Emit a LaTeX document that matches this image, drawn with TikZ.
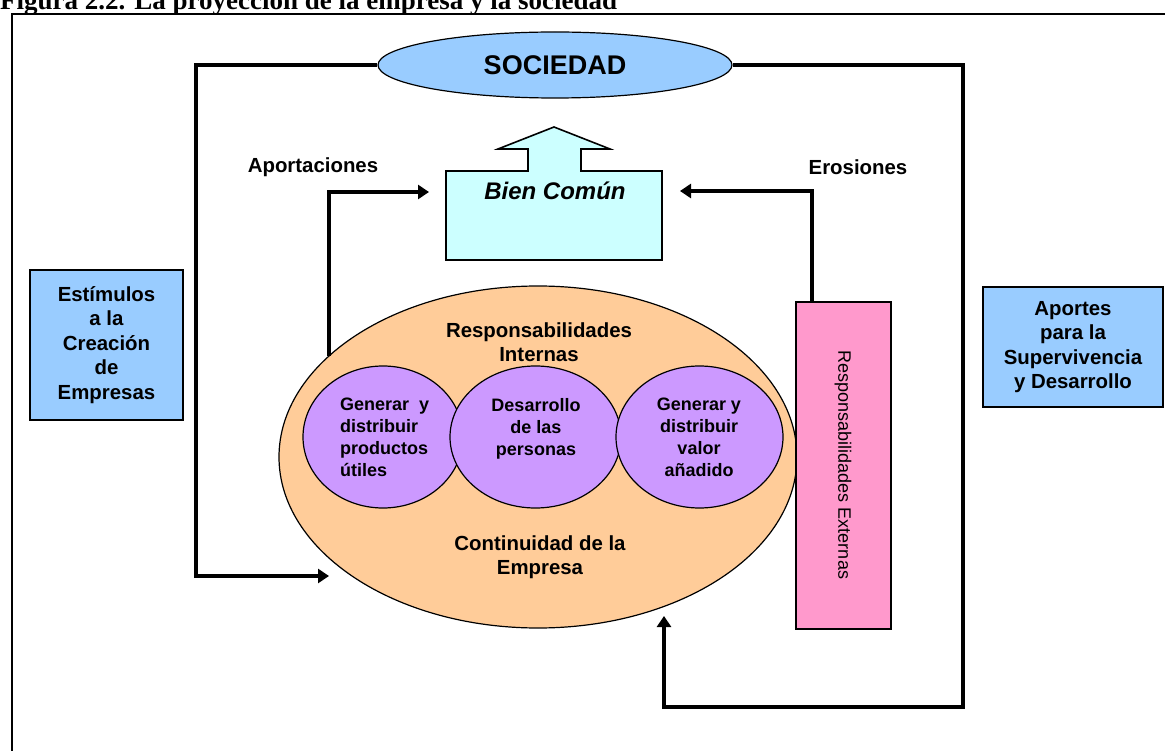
\documentclass[tikz,border=0pt]{standalone}
\usepackage{fontspec}
\setmainfont{Liberation Sans}
\newfontfamily\titlefont{Liberation Serif}
\usetikzlibrary{shapes.geometric,arrows.meta}

\definecolor{skyblue}{HTML}{99CCFF}
\definecolor{paleaqua}{HTML}{CCFFFF}
\definecolor{peach}{HTML}{FFCC99}
\definecolor{lilac}{HTML}{CC99FF}
\definecolor{rose}{HTML}{FF99CC}

\begin{document}
\begin{tikzpicture}[x=1pt,y=-1pt,
  frameline/.style={line width=2.4pt},
  conn/.style={line width=3.3pt},
  arr/.style={conn,-{Triangle[length=11pt,width=14pt]}},
  oval/.style={ellipse,draw,line width=1.2pt,inner sep=0pt},
  box/.style={rectangle,draw,line width=1.6pt,inner sep=0pt},
  lbl/.style={font=\bfseries\fontsize{20.4}{24.5}\selectfont,align=center,inner sep=0pt},
  inner/.style={font=\bfseries\fontsize{18}{22}\selectfont,inner sep=0pt}
]
\useasboundingbox (0,0) rectangle (1165,751);

% caption and outer frame
\node[anchor=base west,inner sep=0pt,font=\titlefont\bfseries\fontsize{27}{30}\selectfont]
  (title) at (0,10) {Figura 2.2. La proyección de la empresa y la sociedad};
\draw[frameline] (12,760) -- (12,14) -- (1175,14);

% society at the top
\node[oval,fill=skyblue,minimum width=354pt,minimum height=66pt,
  font=\bfseries\fontsize{27}{30}\selectfont] (soc) at (555,65) {SOCIEDAD};

% common good box with its upward arrow
\draw[fill=paleaqua,line width=1.6pt] (446,260) -- (446,171) -- (528,171) -- (528,149)
  -- (498,149) -- (554,127) -- (610,149) -- (581,149) -- (581,171) -- (662,171)
  -- (662,260) -- cycle;
\node[inner sep=0pt,font=\bfseries\itshape\fontsize{24}{28}\selectfont] (bien) at (555,191) {Bien Común};

% the company and its internal responsibilities
\node[oval,fill=peach,minimum width=518pt,minimum height=342pt] (emp) at (538,457) {};
\node[oval,fill=lilac,minimum width=160pt,minimum height=142pt] (c1) at (383,437) {};
\node[oval,fill=lilac,minimum width=171pt,minimum height=142pt] (c2) at (535.5,437) {};
\node[oval,fill=lilac,minimum width=167pt,minimum height=142pt] (c3) at (699.5,437) {};

\node[lbl] (ri) at (539,342) {Responsabilidades\\Internas};
\node[lbl] (cont) at (540,557) {Continuidad de la\\Empresa};
\node[inner,align=left,anchor=north west] (t1) at (340,398)
  {Generar~~y\\distribuir\\productos\\útiles};
\node[inner,align=center,anchor=north] (t2) at (536,398)
  {Desarrollo\\de las\\personas};
\node[inner,align=center,anchor=north] (t3) at (699,398)
  {Generar y\\distribuir\\valor\\añadido};

% external responsibilities
\node[box,fill=rose,minimum width=95pt,minimum height=327pt] (ext) at (843.5,465.5) {};
\node[rotate=-90,inner sep=0pt,font=\fontsize{18}{22}\selectfont] (extl) at (843,465)
  {Responsabilidades Externas};

% side boxes
\node[box,fill=skyblue,minimum width=153pt,minimum height=150pt,lbl,draw,line width=1.6pt]
  (estim) at (106.5,345) {Estímulos\\a la\\Creación\\de\\Empresas};
\node[box,fill=skyblue,minimum width=180pt,minimum height=120pt,lbl,draw,line width=1.6pt]
  (apor) at (1073,347) {Aportes\\para la\\Supervivencia\\y Desarrollo};

% flow labels
\node[lbl] (aportl) at (313,167) {Aportaciones};
\node[lbl] (erosl) at (858,167) {Erosiones};

% connector end points
\coordinate (aportBase) at (329,356);
\coordinate (aportTip) at (429,192);
\coordinate (erosBase) at (812,302);
\coordinate (erosTip) at (680,191);
\coordinate (leftCorner) at (196,576);
\coordinate (leftTip) at (329,576);
\coordinate (rightCorner) at (963,707);
\coordinate (bottomCorner) at (664,707);
\coordinate (bottomTip) at (664,616);

% connectors
\draw[arr] (aportBase) |- (aportTip);
\draw[arr] (erosBase) |- (erosTip);
\draw[arr] (soc.west) -| (leftCorner) -- (leftTip);
\draw[arr] (soc.east) -| (rightCorner) -- (bottomCorner) -- (bottomTip);
\end{tikzpicture}
\end{document}
